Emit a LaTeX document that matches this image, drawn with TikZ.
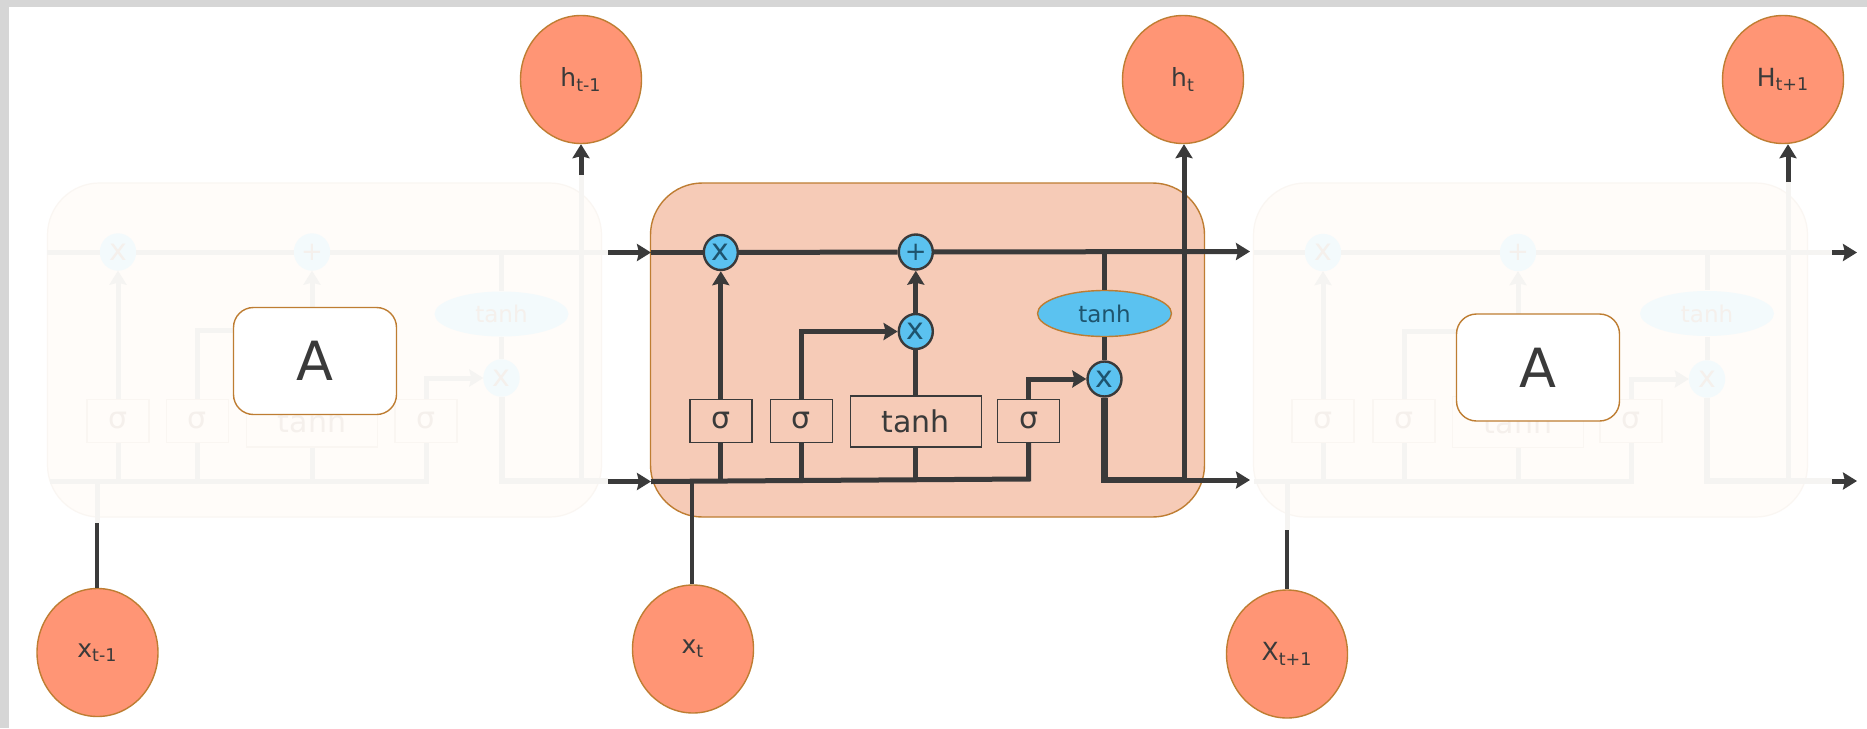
\documentclass[tikz,border=0pt]{standalone}
\usepackage{fontspec}
\setmainfont{DejaVu Sans}
\usetikzlibrary{arrows.meta,shapes.geometric}

\definecolor{wire}{RGB}{58,58,58}
\definecolor{ghostwire}{RGB}{245,244,242}
\definecolor{ghostfill}{RGB}{255,252,249}
\definecolor{ghostedge}{RGB}{250,246,242}
\definecolor{ghostblue}{RGB}{243,250,252}
\definecolor{ghosttext}{RGB}{245,240,236}
\definecolor{gatetext}{RGB}{30,84,110}
\definecolor{gateblue}{RGB}{91,194,240}
\definecolor{orangeedge}{RGB}{190,125,50}
\definecolor{cellfill}{RGB}{246,203,183}
\definecolor{statefill}{RGB}{255,149,117}
\definecolor{framegray}{RGB}{214,214,214}

\tikzset{every picture/.style={line width=0.75pt}}
\tikzset{
  cellbox/.style={draw=orangeedge,line width=0.7pt,fill=cellfill,rounded corners=26pt,minimum width=277pt,minimum height=167pt,inner sep=0pt},
  ghostcell/.style={draw=ghostedge,line width=0.6pt,fill=ghostfill,rounded corners=26pt,minimum width=277pt,minimum height=167pt,inner sep=0pt},
  statenode/.style={ellipse,draw=orangeedge,line width=0.7pt,fill=statefill,text=wire,minimum width=60.5pt,minimum height=64pt,inner sep=0pt,font=\fontsize{12.5}{12.5}\selectfont},
  mergenode/.style={ellipse,draw=wire,line width=1.2pt,fill=gateblue,text=gatetext,minimum width=17pt,minimum height=17.5pt,inner sep=0pt,font=\fontsize{15}{15}\selectfont},
  ghostmerge/.style={ellipse,draw=ghostblue,line width=1.2pt,fill=ghostblue,text=ghosttext,minimum width=17pt,minimum height=17.5pt,inner sep=0pt,font=\fontsize{15}{15}\selectfont},
  sigbox/.style={draw=wire,line width=0.7pt,text=wire,minimum width=31pt,minimum height=21.5pt,inner sep=0pt,font=\fontsize{15}{15}\selectfont},
  tanhbox/.style={draw=wire,line width=0.7pt,text=wire,minimum width=65.5pt,minimum height=25.5pt,inner sep=0pt,font=\fontsize{15}{15}\selectfont},
  ghostsig/.style={draw=ghostedge,line width=0.7pt,text=ghosttext,minimum width=31pt,minimum height=21.5pt,inner sep=0pt,font=\fontsize{15}{15}\selectfont},
  ghosttanh/.style={draw=ghostedge,line width=0.7pt,text=ghosttext,minimum width=65.5pt,minimum height=25.5pt,inner sep=0pt,font=\fontsize{15}{15}\selectfont},
  tanhoval/.style={ellipse,draw=orangeedge,line width=0.7pt,fill=gateblue,text=gatetext,minimum width=67pt,minimum height=23pt,inner sep=0pt,font=\fontsize{11.5}{11.5}\selectfont},
  ghostoval/.style={ellipse,fill=ghostblue,text=ghosttext,minimum width=67pt,minimum height=22.5pt,inner sep=0pt,font=\fontsize{11.5}{11.5}\selectfont},
  labelbox/.style={draw=orangeedge,line width=0.7pt,fill=white,text=wire,rounded corners=10pt,minimum width=81.5pt,minimum height=53.5pt,inner sep=0pt,font=\fontsize{27}{27}\selectfont},
  wireline/.style={draw=wire,line width=2.5pt},
  ghostline/.style={draw=ghostwire,line width=2.5pt},
  flowarrow/.style={-{Stealth[length=7pt,width=8.5pt,inset=1pt]}},
}

\begin{document}
\begin{tikzpicture}[x=0.5pt,y=0.5pt,yscale=-1,xscale=1]
\useasboundingbox (0,0) rectangle (1867,728);

%Shape: Frame
\fill [framegray] (0,0) rectangle (1867,728) ;
\fill [white] (9,7) rectangle (1867,728) ;

%Shape: Rounded Rect
\draw (324.5,350) node (cellA) [ghostcell] {};
\draw (927.5,350) node (cellB) [cellbox] {};
\draw (1530.5,350) node (cellC) [ghostcell] {};

%Left cell, faded
\draw (118,252) node (mulAa) [ghostmerge] {x};
\draw (312,252) node (addA) [ghostmerge,font=\fontsize{13}{13}\selectfont] {+};
\draw (501.5,378) node (mulAc) [ghostmerge] {x};
\draw (501.5,314) node (ovalA) [ghostoval] {tanh};
\draw (118,421) node (sigAa) [ghostsig] {σ};
\draw (197.5,421) node (sigAb) [ghostsig] {σ};
\draw (312,421.5) node (tanhA) [ghosttanh] {tanh};
\draw (426,421) node (sigAc) [ghostsig] {σ};
\coordinate (topAin) at (47,252);
\coordinate (topAout) at (608,252);
\coordinate (botAin) at (50,481);
\coordinate (botAturn) at (426,481);
\coordinate (botAout) at (608,481);
\coordinate (botAmid) at (501.5,481);
\coordinate (feedA) at (300,330);
\coordinate (inA) at (97,523);
\coordinate (upA) at (581,175);
\coordinate (topAjoin) at (501.5,252);
%Straight Lines
\draw [ghostline] (topAin) -- (mulAa) ;
\draw [ghostline] (mulAa) -- (addA) ;
\draw [ghostline] (addA) -- (topAout) ;
\draw [ghostline] (botAin) -- (botAturn) -- (sigAc.south) ;
\draw [ghostline,line width=3pt] (mulAc.south) -- (botAmid) -- (botAout) ;
\draw [ghostline] (botAmid -| upA) -- (upA) ;
\draw [ghostline] (inA) -- (inA |- botAin) ;
\draw [ghostline] (sigAa.south) -- (sigAa.south |- botAin) ;
\draw [ghostline] (sigAb.south) -- (sigAb.south |- botAin) ;
\draw [ghostline] (tanhA.south) -- (tanhA.south |- botAin) ;
\draw [ghostline,flowarrow] (sigAa.north) -- (mulAa.south) ;
\draw [ghostline] (sigAb.north) |- (feedA) ;
\draw [ghostline,flowarrow] (tanhA.north) -- (addA.south) ;
\draw [ghostline,flowarrow] (sigAc.north) |- (mulAc.west) ;
\draw [ghostline] (topAjoin) -- (ovalA.north) ;
\draw [ghostline] (ovalA.south) -- (mulAc.north) ;
\draw (315,361) node (boxA) [labelbox] {A};

%Right cell, faded
\draw (1323,252.5) node (mulCa) [ghostmerge] {x};
\draw (1518,252.5) node (addC) [ghostmerge,font=\fontsize{13}{13}\selectfont] {+};
\draw (1707,379) node (mulCc) [ghostmerge] {x};
\draw (1707,313.5) node (ovalC) [ghostoval] {tanh};
\draw (1323,421) node (sigCa) [ghostsig] {σ};
\draw (1404,421) node (sigCb) [ghostsig] {σ};
\draw (1518,422) node (tanhC) [ghosttanh] {tanh};
\draw (1631,421) node (sigCc) [ghostsig] {σ};
\coordinate (topCin) at (1254,252.5);
\coordinate (topCout) at (1832,252.5);
\coordinate (botCin) at (1254,481);
\coordinate (botCturn) at (1631,481);
\coordinate (botCout) at (1832,481);
\coordinate (botCmid) at (1707,481);
\coordinate (feedC) at (1500,331);
\coordinate (inC) at (1287,530);
\coordinate (upC) at (1788,182);
\coordinate (topCjoin) at (1707,252.5);
\coordinate (topCtip) at (1857,252.5);
\coordinate (botCtip) at (1857,481);
%Straight Lines
\draw [ghostline] (topCin) -- (mulCa) ;
\draw [ghostline] (mulCa) -- (addC) ;
\draw [ghostline] (addC) -- (topCout) ;
\draw [ghostline] (botCin) -- (botCturn) -- (sigCc.south) ;
\draw [ghostline,line width=3pt] (mulCc.south) -- (botCmid) -- (botCout) ;
\draw [ghostline] (botCmid -| upC) -- (upC) ;
\draw [ghostline] (inC) -- (inC |- botCin) ;
\draw [ghostline] (sigCa.south) -- (sigCa.south |- botCin) ;
\draw [ghostline] (sigCb.south) -- (sigCb.south |- botCin) ;
\draw [ghostline] (tanhC.south) -- (tanhC.south |- botCin) ;
\draw [ghostline,flowarrow] (sigCa.north) -- (mulCa.south) ;
\draw [ghostline] (sigCb.north) |- (feedC) ;
\draw [ghostline,flowarrow] (tanhC.north) -- (addC.south) ;
\draw [ghostline,flowarrow] (sigCc.north) |- (mulCc.west) ;
\draw [ghostline] (topCjoin) -- (ovalC.north) ;
\draw [ghostline] (ovalC.south) -- (mulCc.north) ;
\draw (1538,367.5) node (boxC) [labelbox] {A};

%Middle cell
\draw (720.8,252.5) node (mulBa) [mergenode] {x};
\draw (915.8,252) node (addB) [mergenode,font=\fontsize{13}{13}\selectfont] {+};
\draw (915.8,331.5) node (mulBb) [mergenode] {x};
\draw (1104.5,379) node (mulBc) [mergenode] {x};
\draw (1104.5,313.5) node (ovalB) [tanhoval] {tanh};
\draw (720.8,420.7) node (sigBa) [sigbox] {σ};
\draw (801.2,420.7) node (sigBb) [sigbox] {σ};
\draw (915.8,421.6) node (tanhB) [tanhbox] {tanh};
\draw (1028.7,420.7) node (sigBc) [sigbox] {σ};
\coordinate (topBin) at (608,252.5);
\coordinate (topBedge) at (651,252.5);
\coordinate (topBout) at (1250,251.5);
\coordinate (botBin) at (608,481.5);
\coordinate (botBedge) at (651,481.5);
\coordinate (botBturn) at (1028.7,479);
\coordinate (botBup) at (1184,480);
\coordinate (botBout) at (1250,480);
\coordinate (topBjoin) at (1104.5,251.5);
\coordinate (inB) at (692,482);

% Text Node
\draw (581,79.5) node (hA) [statenode] {h\textsubscript{t-1}};
\draw (1183,79.5) node (hB) [statenode] {h\textsubscript{t}};
\draw (1783,79.5) node (hC) [statenode] {H\textsubscript{t+1}};
\draw (97.5,652.5) node (xA) [statenode] {x\textsubscript{t-1}};
\draw (693,649) node (xB) [statenode] {x\textsubscript{t}};
\draw (1287,654) node (xC) [statenode] {X\textsubscript{t+1}};

%Straight Lines
\draw [wireline,flowarrow] (topBin) -- (topBedge) ;
\draw [wireline] (topBedge) -- (mulBa) ;
\draw [wireline] (mulBa) -- (addB) ;
\draw [wireline,flowarrow] (addB) -- (topBout) ;
\draw [wireline,flowarrow] (botBin) -- (botBedge) ;
\draw [wireline] (botBedge) -- (botBturn) -- (sigBc.south) ;
\draw [wireline,line width=3.4pt] (mulBc.south) |- (botBup) ;
\draw [wireline,flowarrow] (botBup) -- (botBout) ;
\draw [wireline,flowarrow] (botBup) -- (botBup |- hB.south) ;
\draw [wireline] (sigBa.south) -- (sigBa.south |- botBedge) ;
\draw [wireline] (sigBb.south) -- (sigBb.south |- botBedge) ;
\draw [wireline] (tanhB.south) -- (tanhB.south |- botBedge) ;
\draw [wireline,flowarrow] (sigBa.north) -- (mulBa.south) ;
\draw [wireline,flowarrow] (sigBb.north) |- (mulBb.west) ;
\draw [wireline] (tanhB.north) -- (mulBb.south) ;
\draw [wireline,flowarrow] (mulBb.north) -- (addB.south) ;
\draw [wireline,flowarrow] (sigBc.north) |- (mulBc.west) ;
\draw [wireline] (topBjoin) -- (ovalB.north) ;
\draw [wireline] (ovalB.south) -- (mulBc.north) ;
\draw [wireline,flowarrow] (upA) -- (upA |- hA.south) ;
\draw [wireline,flowarrow] (upC) -- (upC |- hC.south) ;
\draw [wireline,line width=2pt] (inA) -- (inA |- xA.north) ;
\draw [wireline,line width=2pt] (inB) -- (inB |- xB.north) ;
\draw [wireline,line width=2pt] (inC) -- (inC |- xC.north) ;
\draw [wireline,flowarrow] (topCout) -- (topCtip) ;
\draw [wireline,flowarrow] (botCout) -- (botCtip) ;

\end{tikzpicture}
\end{document}
